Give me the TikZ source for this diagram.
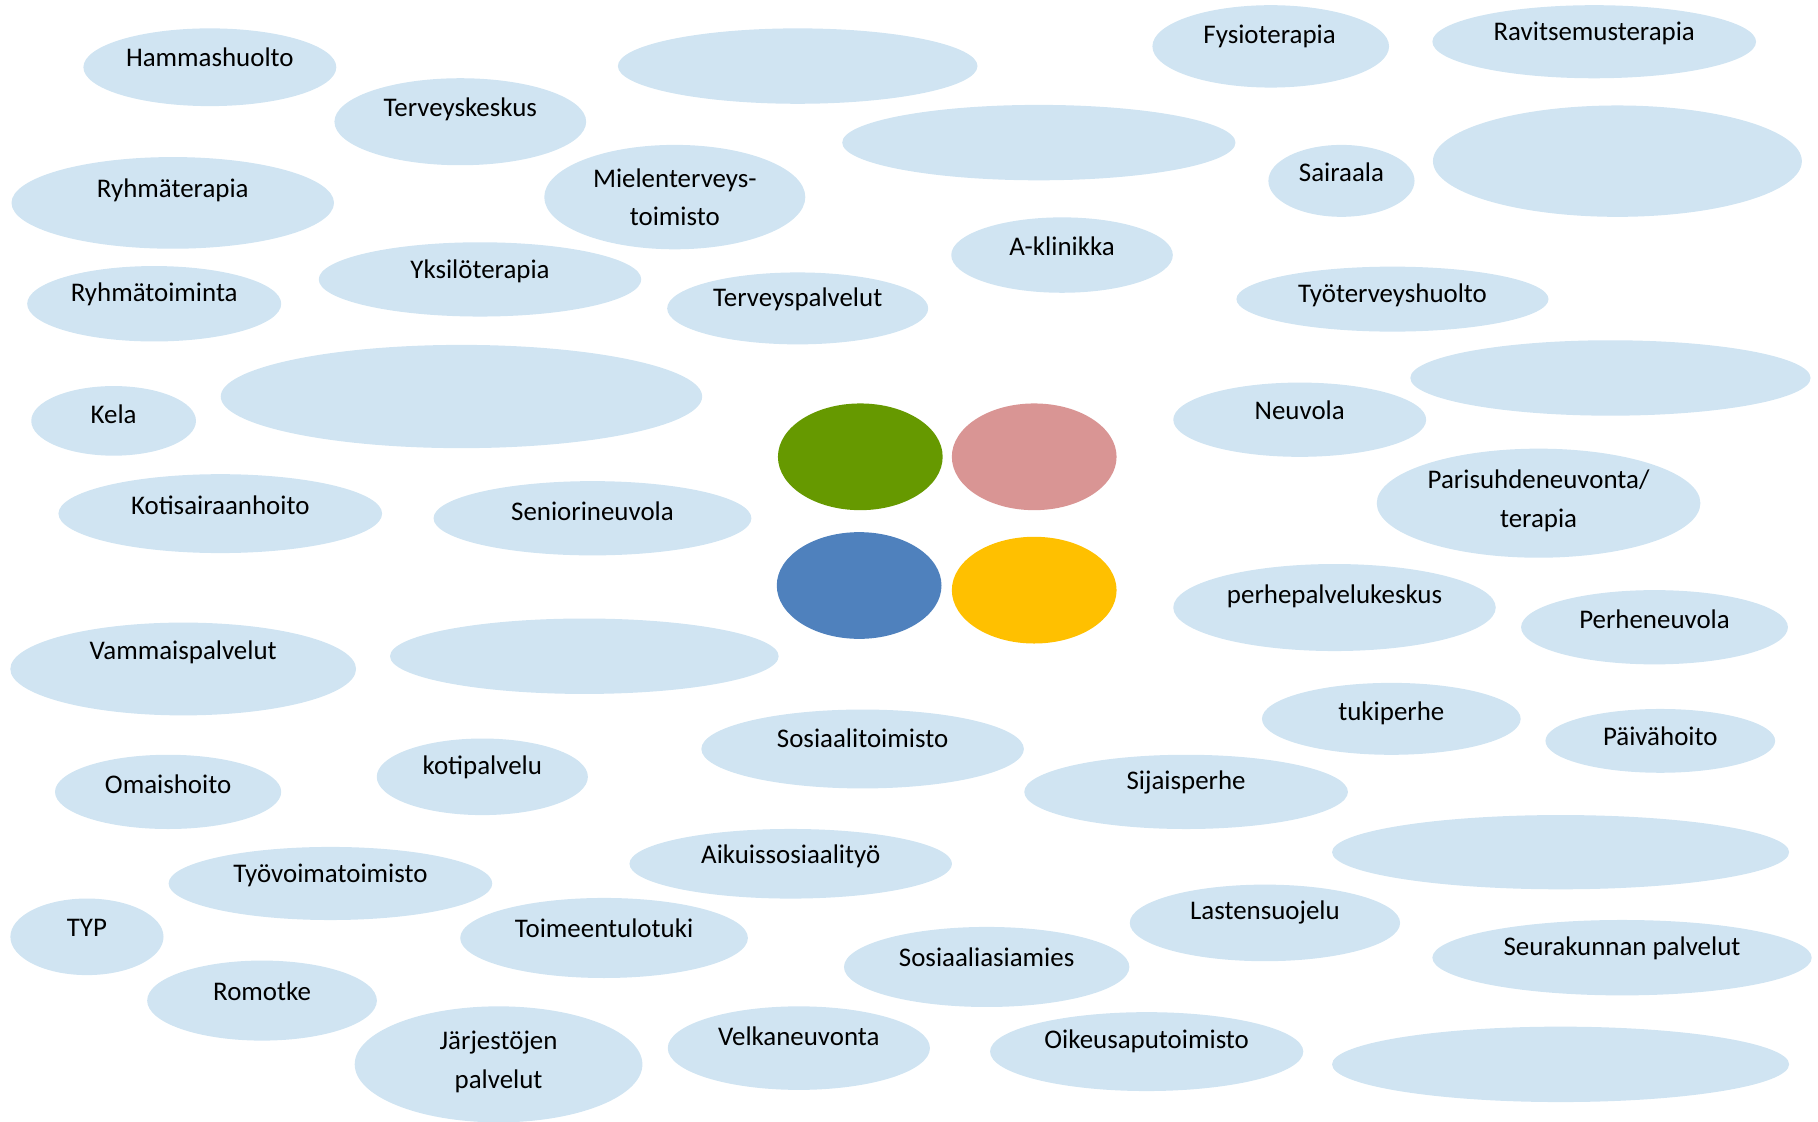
\documentclass[tikz,border=0pt]{standalone}
\usepackage{fontspec}
\setmainfont{Carlito}
\usetikzlibrary{shapes.geometric}
\definecolor{bubblue}{RGB}{208,228,242}
\definecolor{dotgreen}{RGB}{102,153,0}
\definecolor{dotpink}{RGB}{217,149,148}
\definecolor{dotblue}{RGB}{79,129,189}
\definecolor{dotyellow}{RGB}{255,192,0}
\begin{document}
\begin{tikzpicture}[x=0.01cm,y=-0.01cm,
  bubble/.style={ellipse,fill=bubblue,inner sep=0pt},
  dot/.style={ellipse,inner sep=0pt,minimum width=1.42cm,minimum height=.92cm},
  txt/.style={font=\fontsize{6.6}{9.4}\selectfont,align=center,inner sep=0pt}]
% Frame of the whole page
\useasboundingbox (0,0) rectangle (1568,967);
% Four coloured dots in the middle
\node[dot,fill=dotgreen] (green) at (742,394) {};
\node[dot,fill=dotpink] (pink) at (892,394) {};
\node[dot,fill=dotblue] (blue) at (741,505) {};
\node[dot,fill=dotyellow] (yellow) at (892,509) {};
% Empty bubbles
\node[bubble,minimum width=3.10cm,minimum height=.65cm] (emptyA) at (688,57) {};
\node[bubble,minimum width=4.15cm,minimum height=.89cm] (emptyB) at (398,342) {};
\node[bubble,minimum width=3.39cm,minimum height=.65cm] (emptyC) at (896,123) {};
\node[bubble,minimum width=3.18cm,minimum height=.96cm] (emptyD) at (1395,139) {};
\node[bubble,minimum width=3.45cm,minimum height=.65cm] (emptyE) at (1389,326) {};
\node[bubble,minimum width=3.35cm,minimum height=.65cm] (emptyF) at (504,566) {};
\node[bubble,minimum width=3.94cm,minimum height=.64cm] (emptyG) at (1346,735) {};
\node[bubble,minimum width=3.94cm,minimum height=.65cm] (emptyH) at (1346,918) {};
% Health care, upper left
\node[bubble,minimum width=2.18cm,minimum height=.67cm] (hammas) at (181,58) {};
\node[txt] (hammas-t) at (181,49) {Hammashuolto};
\node[bubble,minimum width=2.17cm,minimum height=.75cm] (tkeskus) at (397,105) {};
\node[txt] (tkeskus-t) at (397,94) {Terveyskeskus};
\node[bubble,minimum width=2.25cm,minimum height=.90cm] (mielent) at (582,170) {};
\node[txt] (mielent-t) at (582,170) {Mielenterveys-\\toimisto};
\node[bubble,minimum width=2.78cm,minimum height=.79cm] (ryhmater) at (149,175) {};
\node[txt] (ryhmater-t) at (149,164) {Ryhmäterapia};
\node[bubble,minimum width=2.78cm,minimum height=.64cm] (yksilo) at (414,241) {};
\node[txt] (yksilo-t) at (414,234) {Yksilöterapia};
\node[bubble,minimum width=2.19cm,minimum height=.65cm] (ryhmatoim) at (133,262) {};
\node[txt] (ryhmatoim-t) at (133,254) {Ryhmätoiminta};
\node[bubble,minimum width=2.25cm,minimum height=.62cm] (tpalv) at (688,266) {};
\node[txt] (tpalv-t) at (688,258) {Terveyspalvelut};
\node[bubble,minimum width=1.42cm,minimum height=.60cm] (kela) at (98,363) {};
\node[txt] (kela-t) at (98,357) {Kela};
\node[bubble,minimum width=2.79cm,minimum height=.68cm] (kotisair) at (190,443) {};
\node[txt] (kotisair-t) at (190,436) {Kotisairaanhoito};
\node[bubble,minimum width=2.74cm,minimum height=.64cm] (senior) at (511,447) {};
\node[txt] (senior-t) at (511,441) {Seniorineuvola};
% Health care, upper right
\node[bubble,minimum width=2.04cm,minimum height=.71cm] (fysio) at (1096,40) {};
\node[txt] (fysio-t) at (1095,31) {Fysioterapia};
\node[bubble,minimum width=2.79cm,minimum height=.63cm] (ravits) at (1375,36) {};
\node[txt] (ravits-t) at (1375,29) {Ravitsemusterapia};
\node[bubble,minimum width=1.26cm,minimum height=.62cm] (sairaala) at (1157,156) {};
\node[txt] (sairaala-t) at (1157,149) {Sairaala};
\node[bubble,minimum width=1.91cm,minimum height=.65cm] (aklin) at (916,220) {};
\node[txt] (aklin-t) at (916,212) {A-klinikka};
\node[bubble,minimum width=2.69cm,minimum height=.56cm] (tyoterv) at (1201,258) {};
\node[txt] (tyoterv-t) at (1201,255) {Työterveyshuolto};
% Family services, right
\node[bubble,minimum width=2.18cm,minimum height=.64cm] (neuvola) at (1121,362) {};
\node[txt] (neuvola-t) at (1121,354) {Neuvola};
\node[bubble,minimum width=2.79cm,minimum height=.94cm] (parisuhde) at (1327,434) {};
\node[txt] (parisuhde-t) at (1327,432) {Parisuhdeneuvonta/\\terapia};
\node[bubble,minimum width=2.78cm,minimum height=.75cm] (perhepalv) at (1151,524) {};
\node[txt] (perhepalv-t) at (1151,514) {perhepalvelukeskus};
\node[bubble,minimum width=2.30cm,minimum height=.64cm] (perheneuv) at (1427,541) {};
\node[txt] (perheneuv-t) at (1427,534) {Perheneuvola};
\node[bubble,minimum width=2.23cm,minimum height=.62cm] (tukiperhe) at (1200,620) {};
\node[txt] (tukiperhe-t) at (1200,615) {tukiperhe};
\node[bubble,minimum width=1.98cm,minimum height=.55cm] (paivah) at (1432,639) {};
\node[txt] (paivah-t) at (1432,635) {Päivähoito};
\node[bubble,minimum width=2.79cm,minimum height=.64cm] (sijais) at (1023,683) {};
\node[txt] (sijais-t) at (1023,675) {Sijaisperhe};
\node[bubble,minimum width=2.33cm,minimum height=.66cm] (lastens) at (1091,796) {};
\node[txt] (lastens-t) at (1091,787) {Lastensuojelu};
\node[bubble,minimum width=3.27cm,minimum height=.65cm] (seurak) at (1399,826) {};
\node[txt] (seurak-t) at (1399,818) {Seurakunnan palvelut};
\node[bubble,minimum width=2.70cm,minimum height=.68cm] (oikeus) at (989,907) {};
\node[txt] (oikeus-t) at (989,898) {Oikeusaputoimisto};
% Social services, lower left
\node[bubble,minimum width=2.98cm,minimum height=.80cm] (vammais) at (158,577) {};
\node[txt] (vammais-t) at (158,563) {Vammaispalvelut};
\node[bubble,minimum width=2.78cm,minimum height=.68cm] (sostoim) at (744,646) {};
\node[txt] (sostoim-t) at (744,637) {Sosiaalitoimisto};
\node[bubble,minimum width=1.95cm,minimum height=.64cm] (omaish) at (145,683) {};
\node[txt] (omaish-t) at (145,676) {Omaishoito};
\node[bubble,minimum width=1.82cm,minimum height=.66cm] (kotipalv) at (416,670) {};
\node[txt] (kotipalv-t) at (416,662) {kotipalvelu};
\node[bubble,minimum width=2.78cm,minimum height=.60cm] (aikuis) at (682,745) {};
\node[txt] (aikuis-t) at (682,739) {Aikuissosiaalityö};
\node[bubble,minimum width=2.79cm,minimum height=.63cm] (tyovoima) at (285,762) {};
\node[txt] (tyovoima-t) at (285,755) {Työvoimatoimisto};
\node[bubble,minimum width=1.32cm,minimum height=.66cm] (typ) at (75,808) {};
\node[txt] (typ-t) at (75,800) {TYP};
\node[bubble,minimum width=2.48cm,minimum height=.69cm] (toimeent) at (521,809) {};
\node[txt] (toimeent-t) at (521,801) {Toimeentulotuki};
\node[bubble,minimum width=2.46cm,minimum height=.69cm] (sosasiam) at (851,834) {};
\node[txt] (sosasiam-t) at (851,826) {Sosiaaliasiamies};
\node[bubble,minimum width=1.98cm,minimum height=.69cm] (romotke) at (226,863) {};
\node[txt] (romotke-t) at (226,855) {Romotke};
\node[bubble,minimum width=2.48cm,minimum height=1.00cm] (jarjest) at (430,918) {};
\node[txt] (jarjest-t) at (430,916) {Järjestöjen\\palvelut};
\node[bubble,minimum width=2.26cm,minimum height=.72cm] (velka) at (689,904) {};
\node[txt] (velka-t) at (689,894) {Velkaneuvonta};
\end{tikzpicture}
\end{document}
